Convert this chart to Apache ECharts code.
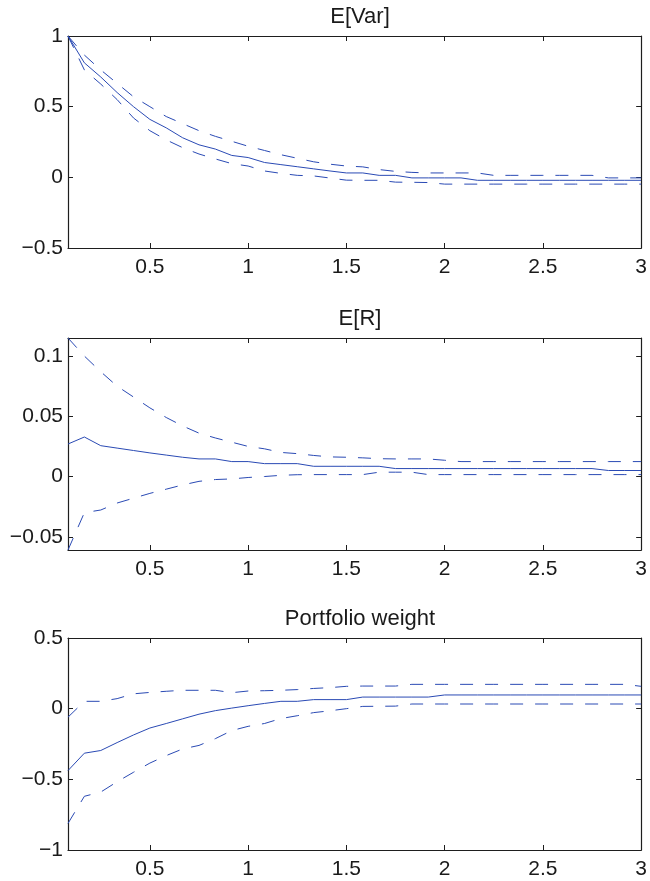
<!DOCTYPE html>
<html>
<head>
<meta charset="utf-8">
<script src="https://cdn.jsdelivr.net/npm/echarts@6/dist/echarts.min.js"></script>
<style>
  html, body { margin: 0; padding: 0; background: #ffffff; }
  #chart { width: 650px; height: 881px; }
</style>
</head>
<body>
<div id="chart"></div>
<script>
// Horizon in months (plotted in years = month / 12)
const months = [1,2,3,4,5,6,7,8,9,10,11,12,13,14,15,16,17,18,19,20,21,22,23,24,25,26,27,28,29,30,31,32,33,34,35,36];

const titles = ['E[Var]', 'E[R]', 'Portfolio weight'];

// Panel 1: E[Var]
const varMean  = [1.0, 0.81, 0.71, 0.60, 0.50, 0.41, 0.35, 0.28, 0.23, 0.20, 0.155, 0.14, 0.105, 0.09, 0.075, 0.06, 0.045, 0.031, 0.031, 0.014, 0.014, -0.004, -0.004, -0.004, -0.004, -0.021, -0.021, -0.021, -0.021, -0.021, -0.021, -0.021, -0.021, -0.021, -0.021, -0.021];
const varUpper = [1.0, 0.865, 0.76, 0.665, 0.57, 0.50, 0.43, 0.38, 0.33, 0.29, 0.255, 0.22, 0.19, 0.16, 0.135, 0.11, 0.093, 0.08, 0.074, 0.055, 0.042, 0.035, 0.031, 0.031, 0.031, 0.031, 0.014, 0.014, 0.014, 0.014, 0.014, 0.014, 0.014, -0.004, -0.004, -0.004];
const varLower = [1.0, 0.76, 0.66, 0.55, 0.42, 0.33, 0.265, 0.21, 0.165, 0.13, 0.097, 0.08, 0.045, 0.028, 0.014, 0.01, -0.005, -0.02, -0.021, -0.021, -0.034, -0.035, -0.037, -0.048, -0.048, -0.048, -0.048, -0.048, -0.048, -0.048, -0.048, -0.048, -0.048, -0.048, -0.048, -0.048];

// Panel 2: E[R]
const rMean  = [0.027, 0.0328, 0.0256, 0.0236, 0.0216, 0.0196, 0.0178, 0.016, 0.0146, 0.0146, 0.0124, 0.0124, 0.0107, 0.0107, 0.0107, 0.0085, 0.0085, 0.0085, 0.0085, 0.0085, 0.0066, 0.0066, 0.0066, 0.0066, 0.0066, 0.0066, 0.0066, 0.0066, 0.0066, 0.0066, 0.0066, 0.0066, 0.0066, 0.005, 0.005, 0.005];
const rUpper = [0.115, 0.100, 0.087, 0.075, 0.066, 0.057, 0.049, 0.042, 0.036, 0.032, 0.0285, 0.025, 0.023, 0.020, 0.019, 0.0175, 0.0163, 0.016, 0.0155, 0.0148, 0.0146, 0.0146, 0.0146, 0.0135, 0.0124, 0.0124, 0.0124, 0.0124, 0.0124, 0.0124, 0.0124, 0.0124, 0.0124, 0.0124, 0.0124, 0.0124];
const rLower = [-0.061, -0.030, -0.0278, -0.022, -0.018, -0.014, -0.0105, -0.007, -0.004, -0.0025, -0.002, -0.0008, 0.0, 0.001, 0.0015, 0.0016, 0.0016, 0.0016, 0.0016, 0.0036, 0.0036, 0.0036, 0.0016, 0.0016, 0.0016, 0.0016, 0.0016, 0.0016, 0.0016, 0.0016, 0.0016, 0.0016, 0.0016, 0.0016, 0.0016, 0.0016];

// Panel 3: Portfolio weight
const wMean  = [-0.438, -0.315, -0.296, -0.24, -0.186, -0.137, -0.105, -0.072, -0.039, -0.014, 0.004, 0.021, 0.037, 0.052, 0.052, 0.064, 0.064, 0.064, 0.082, 0.082, 0.082, 0.082, 0.082, 0.097, 0.097, 0.097, 0.097, 0.097, 0.097, 0.097, 0.097, 0.097, 0.097, 0.097, 0.097, 0.097];
const wUpper = [-0.06, 0.052, 0.052, 0.071, 0.105, 0.115, 0.123, 0.13, 0.13, 0.13, 0.113, 0.125, 0.127, 0.13, 0.135, 0.143, 0.149, 0.158, 0.16, 0.16, 0.16, 0.172, 0.172, 0.172, 0.172, 0.172, 0.172, 0.172, 0.172, 0.172, 0.172, 0.172, 0.172, 0.172, 0.172, 0.158];
const wLower = [-0.812, -0.62, -0.59, -0.517, -0.45, -0.385, -0.332, -0.285, -0.26, -0.212, -0.155, -0.125, -0.105, -0.07, -0.05, -0.028, -0.015, 0.0, 0.016, 0.017, 0.018, 0.033, 0.033, 0.033, 0.033, 0.033, 0.033, 0.033, 0.033, 0.033, 0.033, 0.033, 0.033, 0.033, 0.033, 0.033];

// Axis ranges and tick labels
const xMin = months[0] / 12, xMax = months[months.length - 1] / 12;
const xTicks = [0.5, 1, 1.5, 2, 2.5, 3];
const yRanges = [[-0.5, 1], [-0.061, 0.115], [-1, 0.5]];
const yTicks = [[-0.5, 0, 0.5, 1], [-0.05, 0, 0.05, 0.1], [-1, -0.5, 0, 0.5]];
const panels = [
  [varMean, varUpper, varLower],
  [rMean, rUpper, rLower],
  [wMean, wUpper, wLower]
];

const lineColor = '#2a4ab4';
const frameColor = '#1e1e1e';
const textColor = '#1a1a1a';
const font = 'Liberation Sans, Arial, Helvetica, sans-serif';
const gridTops = [36, 338, 638];
const gridH = 212;
const fmt = v => String(Math.round(v * 1000) / 1000).replace('-', '\u2212');

const grids = [], xAxes = [], yAxes = [], series = [], titleList = [];
gridTops.forEach((top, p) => {
  grids.push({ left: 68, top: top, width: 574, height: gridH, containLabel: false });
  titleList.push({
    text: titles[p], left: 355, top: top - 35, textAlign: 'center',
    textStyle: { fontFamily: font, fontSize: 22, fontWeight: 'normal', color: textColor, lineHeight: 22 }
  });
  const tickCommon = { show: true, inside: true, length: 5, lineStyle: { color: frameColor, width: 1 } };
  const lineCommon = { show: true, onZero: false, lineStyle: { color: frameColor, width: 1.2 } };
  // bottom x
  xAxes.push({
    type: 'value', gridIndex: p, position: 'bottom', min: xMin, max: xMax,
    axisLine: lineCommon,
    axisTick: Object.assign({ customValues: xTicks }, tickCommon),
    axisLabel: { show: true, customValues: xTicks, formatter: fmt, margin: 9,
                 fontFamily: font, fontSize: 21, color: textColor },
    splitLine: { show: false }
  });
  // top x (frame + ticks)
  xAxes.push({
    type: 'value', gridIndex: p, position: 'top', min: xMin, max: xMax,
    axisLine: lineCommon,
    axisTick: Object.assign({ customValues: xTicks }, tickCommon),
    axisLabel: { show: false },
    splitLine: { show: false }
  });
  // left y
  yAxes.push({
    type: 'value', gridIndex: p, position: 'left', min: yRanges[p][0], max: yRanges[p][1],
    axisLine: lineCommon,
    axisTick: Object.assign({ customValues: yTicks[p] }, tickCommon),
    axisLabel: { show: true, customValues: yTicks[p], formatter: fmt, margin: 5,
                 fontFamily: font, fontSize: 21, color: textColor },
    splitLine: { show: false }
  });
  // right y
  yAxes.push({
    type: 'value', gridIndex: p, position: 'right', min: yRanges[p][0], max: yRanges[p][1],
    axisLine: lineCommon,
    axisTick: Object.assign({ customValues: yTicks[p] }, tickCommon),
    axisLabel: { show: false },
    splitLine: { show: false }
  });
  panels[p].forEach((arr, k) => {
    series.push({
      type: 'line', xAxisIndex: 2 * p, yAxisIndex: 2 * p,
      data: months.map((m, i) => [m / 12, arr[i]]),
      showSymbol: false, symbol: 'none', silent: true, animation: false,
      lineStyle: { color: lineColor, width: 1, type: k === 0 ? 'solid' : [13, 12] }
    });
  });
});

const chart = echarts.init(document.getElementById('chart'), null, { renderer: 'canvas' });
chart.setOption({
  animation: false,
  backgroundColor: '#ffffff',
  title: titleList,
  grid: grids,
  xAxis: xAxes,
  yAxis: yAxes,
  series: series
});
</script>
</body>
</html>
